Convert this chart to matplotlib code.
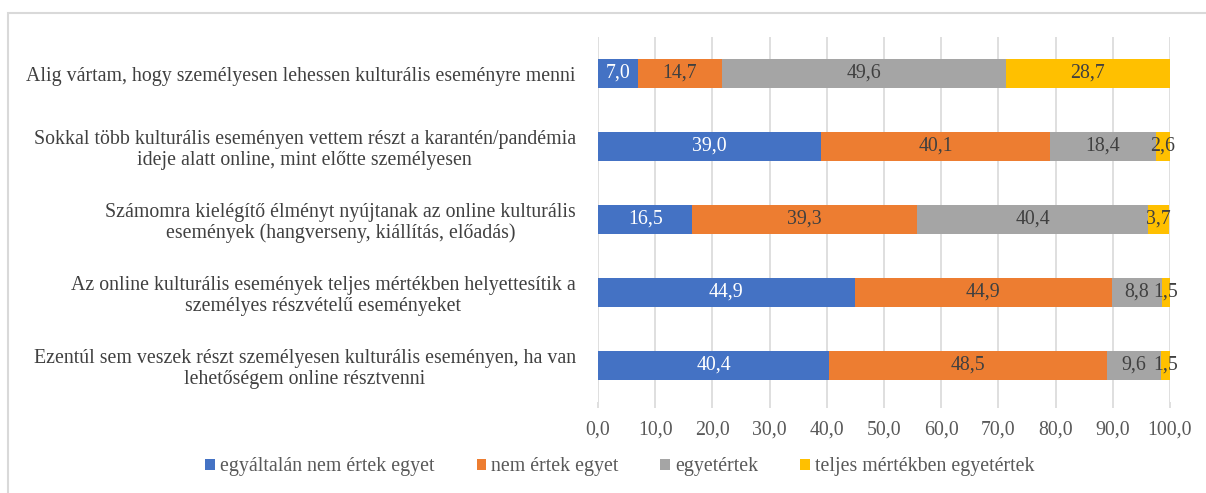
"""Stacked horizontal bar chart of attitudes toward online cultural events."""

import matplotlib

matplotlib.use("Agg")

import matplotlib.pyplot as plt
from matplotlib.patches import Rectangle
import numpy as np

statements = [
    "Alig vártam, hogy személyesen lehessen kulturális eseményre menni",
    "Sokkal több kulturális eseményen vettem részt a karantén/pandémia\nideje alatt online, mint előtte személyesen",
    "Számomra kielégítő élményt nyújtanak az online kulturális\nesemények (hangverseny, kiállítás, előadás)",
    "Az online kulturális események teljes mértékben helyettesítik a\nszemélyes részvételű eseményeket",
    "Ezentúl sem veszek részt személyesen kulturális eseményen, ha van\nlehetőségem online résztvenni",
]
series_names = [
    "egyáltalán nem értek egyet",
    "nem értek egyet",
    "egyetértek",
    "teljes mértékben egyetértek",
]
disagree_strongly = [7.0, 39.0, 16.5, 44.9, 40.4]
disagree = [14.7, 40.1, 39.3, 44.9, 48.5]
agree = [49.6, 18.4, 40.4, 8.8, 9.6]
agree_fully = [28.7, 2.6, 3.7, 1.5, 1.5]
x_ticks = [0, 10, 20, 30, 40, 50, 60, 70, 80, 90, 100]

colors = ["#4472C4", "#ED7D31", "#A5A5A5", "#FFC000"]
label_colors = ["white", "#404040", "#404040", "#404040"]
FS = 14.3

plt.rcParams["font.family"] = ["Liberation Serif", "DejaVu Serif"]

fig = plt.figure(figsize=(12.06, 4.93), dpi=100)
fig.patches.append(Rectangle((8 / 1206, -0.1), 1.2, 1 - 13 / 493 + 0.1,
                             transform=fig.transFigure, fill=False,
                             ec="#D9D9D9", lw=1.5))
ax = fig.add_axes([598 / 1206, 1 - 402 / 493, 572 / 1206, 365 / 493])

y = np.arange(len(statements))
left = np.zeros(len(statements))
for name, values, color, tcolor in zip(
    series_names, [disagree_strongly, disagree, agree, agree_fully], colors, label_colors
):
    bars = ax.barh(y, values, left=left, height=0.39, color=color, label=name, zorder=3)
    ax.bar_label(bars, labels=[f"{v:.1f}".replace(".", ",") for v in values],
                 label_type="center", color=tcolor, fontsize=FS)
    left += np.array(values)

ax.set_ylim(len(statements) - 0.5, -0.5)
ax.set_xlim(0, 100)
ax.set_xticks(x_ticks)
ax.set_xticklabels([f"{t:.1f}".replace(".", ",") for t in x_ticks])
ax.set_yticks(y)
ax.set_yticklabels(statements, multialignment="center", linespacing=1.12)
ax.tick_params(axis="y", length=0, pad=16, labelsize=FS, labelcolor="#404040")
ax.tick_params(axis="x", length=4, color="#D9D9D9", width=1.2, pad=9,
               labelsize=FS, labelcolor="#595959")
ax.grid(axis="x", color="#D9D9D9", lw=1.2, zorder=0)
for spine in ax.spines.values():
    spine.set_visible(False)

fig.legend(loc="center", bbox_to_anchor=(620 / 1206, 1 - 467 / 493), ncol=4,
           frameon=False, handlelength=0.5, handleheight=0.5, handletextpad=0.25,
           columnspacing=2.1, prop={"size": FS},
           labelcolor="#595959")

fig.savefig("out.png", dpi=100)
